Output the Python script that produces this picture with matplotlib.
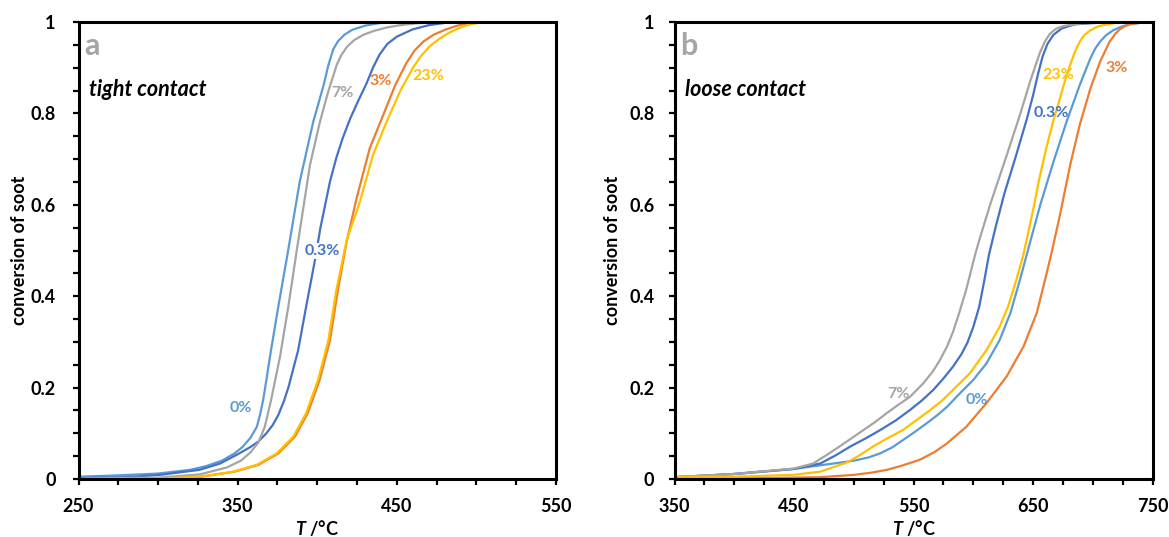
import numpy as np
import matplotlib
matplotlib.use("Agg")
import matplotlib.pyplot as plt
from matplotlib import rcParams
from matplotlib.ticker import MultipleLocator, FormatStrFormatter

params = {
    'font.family': ['Lato', 'DejaVu Sans'],
    'font.weight': 'bold',
    'mathtext.fontset': 'custom',
    'mathtext.it': 'Lato:italic:bold',
    'mathtext.rm': 'Lato:bold',
    'axes.linewidth': 2.2,
    'xtick.labelsize': 13,
    'ytick.labelsize': 13,
    'axes.labelsize': 13,
    'axes.labelweight': 'bold',
}
rcParams.update(params)

colors = {"0%": "#5B9BD5", "0.3%": "#4472C4", "3%": "#ED7D31",
          "7%": "#A5A5A5", "23%": "#FFC000"}

# ---- panel a: tight contact ----
a_T_0 = [250, 275, 300, 320, 330, 340, 348, 353, 358, 362, 364, 366, 368, 370, 375.5,
         381.2, 389, 397.5, 401, 404, 407, 410, 413, 417, 422, 430, 440, 455]
a_c_0 = [0.005, 0.008, 0.012, 0.02, 0.028, 0.04, 0.056, 0.07, 0.09, 0.114, 0.14, 0.173,
         0.216, 0.262, 0.377, 0.49, 0.651, 0.782, 0.825, 0.862, 0.906, 0.94, 0.958,
         0.972, 0.983, 0.992, 0.998, 1.0]
a_T_03 = [250, 280, 301, 326, 339, 351, 358, 363, 368, 372, 375.5, 379, 382, 388, 393,
          398.6, 402, 408, 412, 416, 420.5, 425, 431, 435, 439, 444, 450, 460, 470, 480,
          488]
a_c_03 = [0.002, 0.004, 0.009, 0.02, 0.034, 0.056, 0.07, 0.082, 0.1, 0.118, 0.14, 0.17,
          0.202, 0.282, 0.377, 0.48, 0.55, 0.651, 0.703, 0.746, 0.787, 0.822, 0.866, 0.9,
          0.928, 0.952, 0.968, 0.984, 0.993, 0.998, 1.0]
a_T_3 = [250, 300, 327, 348, 363, 375.5, 386, 394, 401.5, 408, 413, 418.5, 424.7, 433,
         441.5, 449, 456, 461, 466.6, 473, 481, 488, 494, 502]
a_c_3 = [0.0, 0.001, 0.005, 0.016, 0.031, 0.056, 0.093, 0.144, 0.217, 0.304, 0.414, 0.52,
         0.614, 0.724, 0.797, 0.862, 0.91, 0.937, 0.957, 0.972, 0.984, 0.992, 0.997, 1.0]
a_T_7 = [250, 300, 326, 343, 352, 358, 363, 367, 371, 376.6, 381.8, 387.1, 395.4, 401.7,
         406.9, 412.2, 415, 418.5, 423, 428.9, 436, 443.6, 452, 462, 475]
a_c_7 = [0.001, 0.003, 0.01, 0.025, 0.04, 0.058, 0.08, 0.114, 0.173, 0.268, 0.377, 0.5,
         0.687, 0.782, 0.848, 0.906, 0.927, 0.945, 0.96, 0.972, 0.981, 0.988, 0.993, 0.997,
         1.0]
a_T_23 = [250, 300, 326, 347, 362, 374.5, 385, 393, 400.5, 407, 412, 418.5, 426.8, 435,
          443.6, 452, 460, 465, 471, 477, 483, 490, 496, 505]
a_c_23 = [0.0, 0.001, 0.005, 0.016, 0.031, 0.056, 0.093, 0.144, 0.217, 0.304, 0.414, 0.523,
          0.607, 0.709, 0.782, 0.848, 0.899, 0.925, 0.948, 0.964, 0.977, 0.988, 0.995, 1.0]

# ---- panel b: loose contact ----
b_T_0 = [350, 400, 450, 472, 500, 512, 522, 532, 541, 551, 561, 570, 578, 589, 600, 611,
         622, 631, 639, 644.6, 648, 656, 667, 678, 689, 694, 698, 702, 706, 711, 717, 724,
         731, 745]
b_c_0 = [0.004, 0.011, 0.022, 0.03, 0.04, 0.047, 0.056, 0.069, 0.085, 0.103, 0.122, 0.14,
         0.158, 0.188, 0.217, 0.253, 0.304, 0.363, 0.436, 0.49, 0.523, 0.6, 0.694, 0.782,
         0.862, 0.895, 0.921, 0.942, 0.957, 0.971, 0.982, 0.99, 0.995, 1.0]
b_T_03 = [350, 400, 450, 472, 485, 497, 510, 522, 535, 547, 557, 566.5, 575, 583, 590,
          595, 600, 605, 609, 613, 619, 626, 636, 645, 650, 654, 658, 662, 667, 674, 685,
          714]
b_c_03 = [0.004, 0.011, 0.022, 0.034, 0.052, 0.071, 0.089, 0.107, 0.128, 0.151, 0.172,
          0.195, 0.22, 0.246, 0.273, 0.298, 0.333, 0.378, 0.432, 0.49, 0.555, 0.625, 0.71,
          0.79, 0.84, 0.885, 0.925, 0.952, 0.972, 0.986, 0.995, 1.0]
b_T_3 = [350, 422, 472, 500, 515, 527.5, 540, 555, 567, 578, 594, 611, 628, 642, 653, 660,
         665, 672.5, 681, 689, 698, 706, 714, 719, 723, 727, 731, 742]
b_c_3 = [0.001, 0.002, 0.004, 0.009, 0.014, 0.02, 0.029, 0.042, 0.058, 0.078, 0.114,
         0.166, 0.225, 0.29, 0.363, 0.436, 0.49, 0.578, 0.687, 0.775, 0.855, 0.913, 0.957,
         0.975, 0.985, 0.991, 0.995, 1.0]
b_T_7 = [350, 400, 450, 466, 477, 488, 498, 508, 518, 527.5, 537, 547, 558, 566, 572, 578,
         583, 588, 594, 601.4, 605, 614, 628, 639, 647.4, 652, 655.7, 660, 664, 669, 675,
         685, 695, 715]
b_c_7 = [0.004, 0.011, 0.023, 0.034, 0.052, 0.071, 0.089, 0.107, 0.125, 0.144, 0.162,
         0.18, 0.209, 0.235, 0.26, 0.29, 0.322, 0.362, 0.414, 0.49, 0.523, 0.6, 0.709,
         0.797, 0.869, 0.905, 0.933, 0.958, 0.974, 0.985, 0.991, 0.995, 0.998, 1.0]
b_T_23 = [350, 400, 449, 472, 494, 505, 516, 528, 541, 552, 564, 574, 583, 597, 611, 622,
          629, 636, 641.8, 646, 650.5, 655, 661, 667, 672.5, 677, 681, 685, 689, 693, 698,
          704, 711.5, 725]
b_c_23 = [0.005, 0.005, 0.009, 0.016, 0.036, 0.052, 0.071, 0.089, 0.107, 0.128, 0.151,
          0.172, 0.195, 0.231, 0.282, 0.333, 0.377, 0.436, 0.49, 0.54, 0.595, 0.655, 0.724,
          0.785, 0.833, 0.875, 0.906, 0.935, 0.957, 0.972, 0.982, 0.99, 0.995, 1.0]

panel_a = {"0%": (a_T_0, a_c_0), "0.3%": (a_T_03, a_c_03), "3%": (a_T_3, a_c_3),
           "7%": (a_T_7, a_c_7), "23%": (a_T_23, a_c_23)}
panel_b = {"0%": (b_T_0, b_c_0), "0.3%": (b_T_03, b_c_03), "3%": (b_T_3, b_c_3),
           "7%": (b_T_7, b_c_7), "23%": (b_T_23, b_c_23)}

# label positions (T, conversion)
a_labels = {"0%": (352, 0.155), "0.3%": (403, 0.499), "3%": (440, 0.871),
            "7%": (416, 0.845), "23%": (469.5, 0.882)}
b_labels = {"0%": (603, 0.173), "0.3%": (665, 0.80), "3%": (720, 0.90),
            "7%": (537, 0.186), "23%": (670.8, 0.884)}

fig = plt.figure(figsize=(11.69, 5.37), dpi=100)
ax1 = fig.add_axes([0.0672, 0.108, 0.4084, 0.851])
ax2 = fig.add_axes([0.577, 0.108, 0.409, 0.851])


def draw(ax, data, labels, xlim, letter, contact, white_box, ypad, ylabpad):
    for key, (T, c) in data.items():
        ax.plot(T, c, color=colors[key], lw=1.6, solid_capstyle="round",
                solid_joinstyle="round")
    for key, (tx, ty) in labels.items():
        kw = {}
        if key in white_box:
            kw["bbox"] = dict(facecolor="white", edgecolor="none", pad=0.5)
        ax.text(tx, ty, key, color=colors[key], fontsize=11.5, fontweight="bold",
                ha="center", va="center", **kw)
    ax.set_xlim(*xlim)
    ax.set_ylim(0, 1)
    ax.set_xticks(np.arange(xlim[0], xlim[1] + 1, 100))
    ax.xaxis.set_minor_locator(MultipleLocator(25))
    ax.yaxis.set_major_locator(MultipleLocator(0.2))
    ax.yaxis.set_minor_locator(MultipleLocator(0.05))
    ax.yaxis.set_major_formatter(FormatStrFormatter("%g"))
    ax.tick_params(which="both", direction="out", length=4.5, width=1.6)
    ax.tick_params(axis="x", which="major", pad=9)
    ax.tick_params(axis="y", which="major", pad=ypad)
    ax.set_xlabel(r"$T$ /°C", labelpad=2)
    ax.set_ylabel("conversion of soot", labelpad=ylabpad)
    ax.text(0.012, 0.948, letter, transform=ax.transAxes, fontsize=22, fontweight="bold",
            color="#A5A5A5", ha="left", va="center")
    ax.text(0.022, 0.853, contact, transform=ax.transAxes, fontsize=15.5,
            fontweight="bold", style="italic", ha="left", va="center")


draw(ax1, panel_a, a_labels, (250, 550), "a", "tight contact", ["0.3%"], 12, 2)
draw(ax2, panel_b, b_labels, (350, 750), "b", "loose contact", [], 10, 6)

fig.savefig("out.png", dpi=100)
